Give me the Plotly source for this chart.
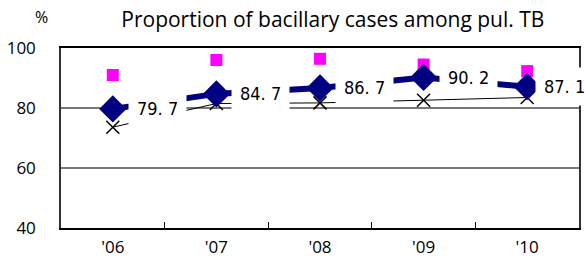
import plotly.graph_objects as go

years = ["'06", "'07", "'08", "'09", "'10"]
bacillary = [79.7, 84.7, 86.7, 90.2, 87.1]
magenta_vals = [91.0, 96.0, 96.4, 94.5, 92.3]
cross_vals = [73.6, 81.5, 81.7, 82.6, 83.5]
label_texts = ["79. 7", "84. 7", "86. 7", "90. 2", "87. 1"]
y_ticks = [40, 60, 80, 100]
y_tick_labels = ["40", "60", "80", "100"]

fig = go.Figure()
fig.add_trace(go.Scatter(
    x=years, y=cross_vals, mode="lines+markers",
    line=dict(color="black", width=1),
    marker=dict(symbol="x-thin", size=13, line=dict(color="black", width=1.5)),
    showlegend=False, hoverinfo="skip"))
fig.add_trace(go.Scatter(
    x=years, y=magenta_vals, mode="markers",
    marker=dict(symbol="square", size=12, color="#FF00FF"),
    showlegend=False, hoverinfo="skip"))
fig.add_trace(go.Scatter(
    x=years, y=bacillary, mode="lines+markers",
    line=dict(color="#000080", width=6),
    marker=dict(symbol="diamond", size=21, color="#000080"),
    showlegend=False, hoverinfo="skip"))

n = len(years)
for i, (yr, v, t) in enumerate(zip(years, bacillary, label_texts)):
    fig.add_annotation(x=yr, y=v, text=t, showarrow=False, xanchor="left",
                       xshift=(8 if i == n - 1 else 15), bgcolor="white", borderpad=8,
                       font=dict(family="Liberation Sans Narrow, Arial Narrow, DejaVu Sans Condensed, sans-serif",
                                 size=18, color="black"))

fig.add_annotation(xref="paper", yref="paper", x=-0.037, y=1.0, yshift=31,
                   text="%", showarrow=False, xanchor="center", yanchor="middle",
                   font=dict(family="Open Sans, sans-serif", size=16, color="black"))

fig.update_layout(
    width=585, height=258,
    margin=dict(l=61, r=6, t=48, b=30, autoexpand=False),
    paper_bgcolor="white", plot_bgcolor="white",
    title=dict(text="Proportion of bacillary cases among pul. TB",
               x=0.569, xanchor="center", y=0.922, yanchor="middle",
               font=dict(family="Open Sans, sans-serif", size=21, color="black")),
    font=dict(family="Open Sans, sans-serif", size=17, color="black"),
)
fig.update_xaxes(type="category", range=[-0.5, 4.5], tickson="boundaries",
                 ticks="inside", ticklen=6, tickcolor="black", automargin=False,
                 showline=True, linecolor="black", linewidth=1.5, mirror=True,
                 showgrid=False, tickfont=dict(size=17), ticklabelstandoff=3)
fig.update_yaxes(range=[40, 100], tickvals=y_ticks, ticktext=y_tick_labels, ticks="",
                 automargin=False,
                 showline=True, linecolor="#333333", linewidth=1.5, mirror=True,
                 showgrid=True, gridcolor="#777777", gridwidth=1.5,
                 zeroline=False, tickfont=dict(size=17), ticklabelstandoff=20)

fig.write_html("out.html", config={"displayModeBar": False},
               post_script="document.body.style.margin='0';")
